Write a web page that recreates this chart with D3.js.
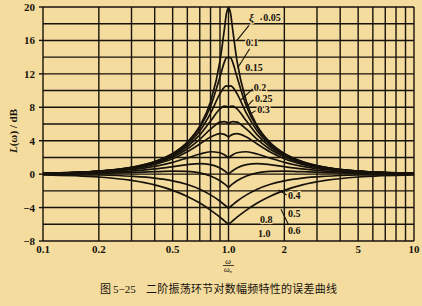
<!DOCTYPE html>
<html><head><meta charset="utf-8">
<script src="https://cdn.jsdelivr.net/npm/d3@7"></script>
<style>
html,body{margin:0;padding:0;background:#f4dc9f;}
svg{display:block;}
</style></head>
<body>
<svg id="c" width="422" height="306"></svg>
<script>
// frequency ratio ω/ωn (shared by all curves)
const omegaRatio = [0.1,0.2,0.3,0.4,0.5,0.6,0.7,0.8,0.9,0.95,0.975,1,1.026,1.053,1.111,1.25,1.429,1.667,2,2.5,3.333,5,10];
// damping ratios
const zetas = ["0.05","0.1","0.15","0.2","0.25","0.3","0.4","0.5","0.6","0.8","1.0"];
// error (dB), one array per damping ratio
const err005 = [0.09,0.35,0.81,1.51,2.48,3.84,5.77,8.66,13.55,17.32,19.23,20.0,19.23,17.32,13.55,8.66,5.77,3.84,2.48,1.51,0.81,0.35,0.09];
const err010 = [0.09,0.35,0.80,1.48,2.42,3.73,5.53,8.09,11.64,13.41,13.93,13.98,13.93,13.41,11.64,8.09,5.53,3.73,2.42,1.48,0.80,0.35,0.09];
const err015 = [0.08,0.34,0.78,1.43,2.33,3.55,5.17,7.28,9.63,10.42,10.56,10.46,10.56,10.42,9.63,7.28,5.17,3.55,2.33,1.43,0.78,0.34,0.08];
const err020 = [0.08,0.33,0.74,1.36,2.20,3.31,4.70,6.35,7.81,8.13,8.11,7.96,8.11,8.13,7.81,6.35,4.70,3.31,2.20,1.36,0.74,0.33,0.08];
const err025 = [0.08,0.31,0.70,1.28,2.04,3.01,4.17,5.38,6.22,6.29,6.20,6.02,6.20,6.29,6.22,5.38,4.17,3.01,2.04,1.28,0.70,0.31,0.08];
const err030 = [0.07,0.29,0.65,1.17,1.85,2.68,3.60,4.44,4.85,4.76,4.63,4.44,4.63,4.76,4.85,4.44,3.60,2.68,1.85,1.17,0.65,0.29,0.07];
const err040 = [0.06,0.24,0.53,0.93,1.41,1.94,2.41,2.68,2.56,2.31,2.14,1.94,2.14,2.31,2.56,2.68,2.41,1.94,1.41,0.93,0.53,0.24,0.06];
const err050 = [0.04,0.17,0.37,0.63,0.90,1.14,1.25,1.14,0.73,0.40,0.21,0.00,0.21,0.40,0.73,1.14,1.25,1.14,0.90,0.63,0.37,0.17,0.04];
const err060 = [0.02,0.09,0.19,0.29,0.35,0.33,0.15,-0.22,-0.80,-1.17,-1.37,-1.58,-1.37,-1.17,-0.80,-0.22,0.15,0.33,0.35,0.29,0.19,0.09,0.02];
const err080 = [-0.02,-0.10,-0.25,-0.47,-0.80,-1.24,-1.80,-2.48,-3.24,-3.66,-3.87,-4.08,-3.87,-3.66,-3.24,-2.48,-1.80,-1.24,-0.80,-0.47,-0.25,-0.10,-0.02];
const err100 = [-0.09,-0.34,-0.75,-1.29,-1.94,-2.67,-3.46,-4.30,-5.15,-5.59,-5.80,-6.02,-5.80,-5.59,-5.15,-4.30,-3.46,-2.67,-1.94,-1.29,-0.75,-0.34,-0.09];
const errSeries = [err005,err010,err015,err020,err025,err030,err040,err050,err060,err080,err100];

const xTickLabels = ["0.1","0.2","0.5","1.0","2","5","10"];
const xTickValues = [0.1,0.2,0.5,1,2,5,10];
const yTickValues = [-8,-4,0,4,8,12,16,20];
const xGrid = [0.1,0.2,0.3,0.4,0.5,0.6,0.7,0.8,0.9,1,2,3,4,5,6,7,8,9,10];
const yGrid = [-8,-6,-4,-2,0,2,4,6,8,10,12,14,16,18,20];

// curve labels (left edge): [text, ω/ωn, dB]
const curveLabels = [
  ["0.05",1.54,18.8],["0.1",1.24,15.8],["0.15",1.23,12.8],["0.2",1.37,10.4],
  ["0.25",1.39,9.1],["0.3",1.43,7.7],["0.4",2.09,-2.6],["0.5",2.09,-4.7],
  ["0.6",2.09,-6.7],["0.8",1.48,-5.4],["1.0",1.44,-7.1]
];
// leader lines: [u1,dB1,u2,dB2]
const leaders = [
  [1.29,17.8,1.11,16.0],[1.30,15.0,1.12,12.7],[1.35,10.2,1.17,8.9],
  [1.36,8.9,1.27,8.2],[1.40,7.6,1.31,7.2],
  [2.06,-2.5,1.86,-1.9],[2.10,-6.0,1.92,-4.2]
];

const svg = d3.select("#c");
const x = d3.scaleLog().domain([0.1,10]).range([43,414]);
const y = d3.scaleLinear().domain([-8,20]).range([241,7]);
const ink = "#17120a";
const bg = "#f4dc9f";

// grid
svg.append("g").selectAll("line").data(xGrid).join("line")
  .attr("x1",d=>x(d)).attr("x2",d=>x(d)).attr("y1",y(20)).attr("y2",y(-8))
  .attr("stroke",ink).attr("stroke-width",1.4);
svg.append("g").selectAll("line").data(yGrid).join("line")
  .attr("x1",x(0.1)).attr("x2",x(10)).attr("y1",d=>y(d)).attr("y2",d=>y(d))
  .attr("stroke",ink).attr("stroke-width",1.4);
// y ticks
svg.append("g").selectAll("line").data(yTickValues).join("line")
  .attr("x1",x(0.1)-4).attr("x2",x(0.1)).attr("y1",d=>y(d)).attr("y2",d=>y(d))
  .attr("stroke",ink).attr("stroke-width",1.4);

// curves: left half and right half (cusp at ω/ωn = 1)
const line = d3.line().x(d=>x(d[0])).y(d=>y(d[1])).curve(d3.curveMonotoneX);
const iMid = omegaRatio.indexOf(1);
svg.append("g").selectAll("path").data(errSeries).join("path")
  .attr("d",s=>{
    const pts = omegaRatio.map((u,i)=>[u,s[i]]);
    return line(pts.slice(0,iMid+1)) + line(pts.slice(iMid));
  })
  .attr("fill","none").attr("stroke",ink).attr("stroke-width",1.7);

// tick labels
const tf = "'Liberation Serif','DejaVu Serif',serif";
svg.append("g").selectAll("text").data(xTickValues).join("text")
  .attr("x",d=>x(d)).attr("y",253).attr("text-anchor","middle")
  .attr("font-family",tf).attr("font-weight","bold").attr("font-size",11).attr("fill",ink)
  .text((d,i)=>xTickLabels[i]);
svg.append("g").selectAll("text").data(yTickValues).join("text")
  .attr("x",35).attr("y",d=>y(d)+4).attr("text-anchor","end")
  .attr("font-family",tf).attr("font-weight","bold").attr("font-size",11).attr("fill",ink)
  .text(d=>d<0?"−"+Math.abs(d):d);

// leaders and curve labels
svg.append("g").selectAll("line").data(leaders).join("line")
  .attr("x1",d=>x(d[0])).attr("y1",d=>y(d[1])).attr("x2",d=>x(d[2])).attr("y2",d=>y(d[3]))
  .attr("stroke",ink).attr("stroke-width",1.1);
svg.append("g").selectAll("text").data(curveLabels).join("text")
  .attr("x",d=>x(d[1])).attr("y",d=>y(d[2])+3.5).attr("text-anchor","start")
  .attr("font-family",tf).attr("font-weight","bold").attr("font-size",10).attr("fill",ink)
  .attr("stroke",bg).attr("stroke-width",2.5).attr("paint-order","stroke")
  .text(d=>d[0]);
svg.append("text").attr("x",x(1.29)).attr("y",y(18.8)+4).attr("text-anchor","start")
  .attr("font-family",tf).attr("font-style","italic").attr("font-weight","bold").attr("font-size",11).attr("fill",ink)
  .attr("stroke",bg).attr("stroke-width",2.5).attr("paint-order","stroke").text("ξ");
svg.append("text").attr("x",x(1.47)).attr("y",y(18.8)+5.5).attr("text-anchor","start")
  .attr("font-family",tf).attr("font-weight","bold").attr("font-size",10).attr("fill",ink).text("·");

// axis titles
const yt = svg.append("text").attr("transform","translate(17,131) rotate(-90)").attr("text-anchor","middle")
  .attr("font-family",tf).attr("font-weight","bold").attr("font-size",11).attr("fill",ink);
yt.append("tspan").attr("font-style","italic").text("L");
yt.append("tspan").text("(ω) / dB");
svg.append("text").attr("x",228).attr("y",264).attr("text-anchor","middle")
  .attr("font-family",tf).attr("font-style","italic").attr("font-size",8).attr("fill",ink).text("ω");
svg.append("line").attr("x1",223).attr("x2",234).attr("y1",265.5).attr("y2",265.5).attr("stroke",ink).attr("stroke-width",0.8);
const xl = svg.append("text").attr("x",228).attr("y",272).attr("text-anchor","middle")
  .attr("font-family",tf).attr("font-style","italic").attr("font-size",8).attr("fill",ink);
xl.append("tspan").text("ω");
xl.append("tspan").attr("font-size",5).attr("dy",1).text("n");

// caption
svg.append("text").attr("x",100).attr("y",293)
  .attr("font-family","'Noto Sans CJK SC',sans-serif").attr("font-size",11).attr("fill",ink).text("图");
svg.append("text").attr("x",113).attr("y",293)
  .attr("font-family",tf).attr("font-size",11).attr("fill",ink).text("5−25");
svg.append("text").attr("x",146).attr("y",293)
  .attr("font-family","'Noto Sans CJK SC',sans-serif").attr("font-size",11).attr("fill",ink)
  .attr("textLength",191).text("二阶振荡环节对数幅频特性的误差曲线");
</script>
</body></html>
